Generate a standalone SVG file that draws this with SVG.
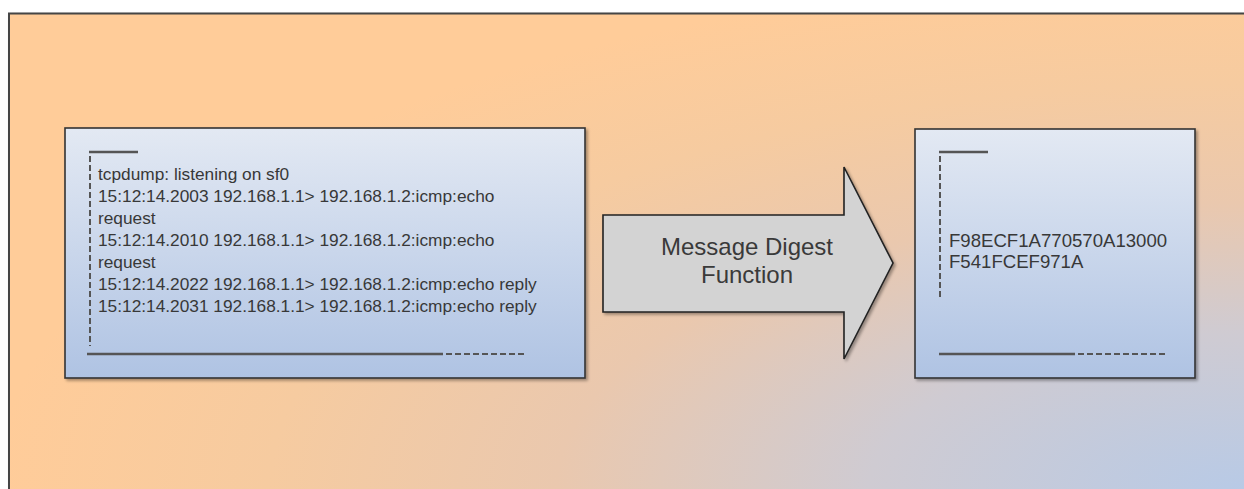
<svg xmlns="http://www.w3.org/2000/svg" width="1244" height="489" viewBox="0 0 1244 489">
<defs>
<radialGradient id="bg" gradientUnits="userSpaceOnUse" cx="1244" cy="489" r="1" gradientTransform="translate(1244 489) scale(1250 520) translate(-1244 -489)">
<stop offset="0" stop-color="#B8CAE6"/>
<stop offset="0.3" stop-color="#CFCBD2"/>
<stop offset="0.55" stop-color="#EAC8AE"/>
<stop offset="0.78" stop-color="#F6CBA0"/>
<stop offset="1" stop-color="#FFCC99"/>
</radialGradient>
<linearGradient id="box" x1="0" y1="0" x2="0" y2="1">
<stop offset="0" stop-color="#E3E9F3"/>
<stop offset="1" stop-color="#AFC3E3"/>
</linearGradient>
<filter id="sh" x="-5%" y="-5%" width="110%" height="115%">
<feGaussianBlur in="SourceAlpha" stdDeviation="1.5"/>
<feOffset dx="1.5" dy="2" result="b"/>
<feComponentTransfer><feFuncA type="linear" slope="0.35"/></feComponentTransfer>
<feMerge><feMergeNode/><feMergeNode in="SourceGraphic"/></feMerge>
</filter>
</defs>
<style>
.box{fill:url(#box);stroke:#333;stroke-width:1.6}
.solid{stroke:#555;stroke-width:2.5;fill:none}
.dash{stroke:#555;stroke-width:2;fill:none;stroke-dasharray:6 3}
.t{font-family:"Liberation Sans",Arial,sans-serif;font-size:17.3px;fill:#383838}
.h{font-size:18.6px}
.a{font-family:"Liberation Sans",Arial,sans-serif;font-size:24px;fill:#3a3a3a;text-anchor:middle}
</style>
<rect x="0" y="0" width="1244" height="489" fill="#fff"/>
<rect id="frame" x="9" y="13.5" width="1250" height="490" fill="url(#bg)" stroke="#444" stroke-width="2" filter="url(#sh)"/>
<g id="log">
<rect class="box" x="65" y="128" width="520" height="250" filter="url(#sh)"/>
<line class="solid" x1="89" y1="152" x2="138" y2="152"/>
<line class="dash" x1="90" y1="156" x2="90" y2="346"/>
<line class="solid" x1="87" y1="354" x2="443" y2="354"/>
<line class="dash" x1="446" y1="354" x2="524" y2="354"/>
<text class="t" x="98" y="180">tcpdump: listening on sf0</text>
<text class="t" x="98" y="202">15:12:14.2003 192.168.1.1&gt; 192.168.1.2:icmp:echo</text>
<text class="t" x="98" y="224">request</text>
<text class="t" x="98" y="246">15:12:14.2010 192.168.1.1&gt; 192.168.1.2:icmp:echo</text>
<text class="t" x="98" y="268">request</text>
<text class="t" x="98" y="290">15:12:14.2022 192.168.1.1&gt; 192.168.1.2:icmp:echo reply</text>
<text class="t" x="98" y="312">15:12:14.2031 192.168.1.1&gt; 192.168.1.2:icmp:echo reply</text>
</g>
<g id="connectors">
<g id="digest">
<path d="M603,215 L844,215 L844,167 L893,263 L844,359 L844,312 L603,312 Z" fill="#D3D3D3" stroke="#222" stroke-width="1.6" filter="url(#sh)"/>
<text class="a" x="747" y="255">Message Digest</text>
<text class="a" x="747" y="283">Function</text>
</g>
</g>
<g id="hash">
<rect class="box" x="915" y="129" width="280" height="249" filter="url(#sh)"/>
<line class="solid" x1="939" y1="152" x2="988" y2="152"/>
<line class="dash" x1="940" y1="156" x2="940" y2="298"/>
<line class="solid" x1="939" y1="354" x2="1075" y2="354"/>
<line class="dash" x1="1078" y1="354" x2="1167" y2="354"/>
<text class="t h" x="949" y="247">F98ECF1A770570A13000</text>
<text class="t h" x="949" y="268">F541FCEF971A</text>
</g>
</svg>
